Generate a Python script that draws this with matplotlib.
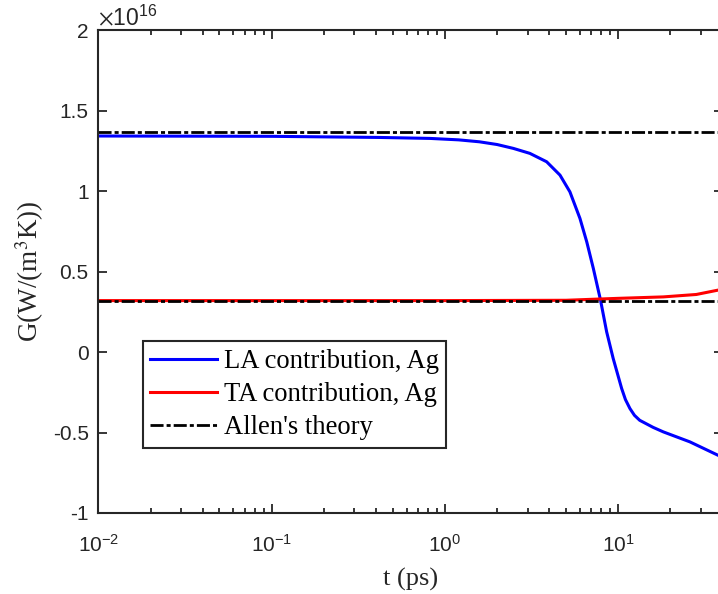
import matplotlib
matplotlib.use("Agg")
import matplotlib.pyplot as plt
from matplotlib.ticker import LogLocator, FixedLocator, NullFormatter

# values are in units of 1e16 W/(m^3 K)
t_la = [0.01, 0.1, 0.42, 0.82, 1.2, 1.58, 2.0, 2.48, 3.09, 3.86, 4.61, 5.26, 6.01, 6.58, 7.18,
        7.9, 8.57, 9.35, 10.46, 11.0, 11.68, 12.4, 13.3, 15.9, 18.2, 25.9, 37.6, 40.0]
g_la = [1.343, 1.341, 1.334, 1.328, 1.319, 1.307, 1.290, 1.266, 1.235, 1.183, 1.10, 0.996, 0.831,
        0.685, 0.52, 0.323, 0.126, -0.04, -0.226, -0.295, -0.351, -0.393, -0.424, -0.468, -0.496,
        -0.558, -0.641, -0.655]

t_ta = [0.01, 1.0, 5.0, 7.9, 10.0, 18.2, 28.2, 37.6, 40.0]
g_ta = [0.320, 0.320, 0.322, 0.330, 0.334, 0.343, 0.358, 0.385, 0.392]

allen_levels = [1.365, 0.32]
x_range = [0.01, 40.0]

y_ticks = [-1, -0.5, 0, 0.5, 1, 1.5, 2]
y_ticklabels = ['-1', '-0.5', '0', '0.5', '1', '1.5', '2']

SERIF = 'Liberation Serif'
SANS = 'Liberation Sans'
GRAY = '#262626'


def main():
    plt.rcParams['mathtext.fontset'] = 'stix'
    plt.rcParams['lines.scale_dashes'] = False
    plt.rcParams['axes.unicode_minus'] = False

    fig = plt.figure(figsize=(7.18, 5.94), dpi=100)
    ax = fig.add_axes([0.137, 0.1364, 0.8694, 0.8126])

    ax.plot(t_la, g_la, color='#0000ff', lw=2.2, label='LA contribution, Ag')
    ax.plot(t_ta, g_ta, color='#ff0000', lw=2.2, label='TA contribution, Ag')
    dash = (9.4, 2.2, 2.9, 2.2)
    for i, level in enumerate(allen_levels):
        ax.plot(x_range, [level, level], color='black', lw=2.0, dashes=dash,
                label="Allen's theory" if i == 0 else None)

    ax.set_xscale('log')
    ax.set_xlim(x_range)
    ax.set_ylim(-1, 2)

    ax.xaxis.set_major_locator(LogLocator(base=10, numticks=10))
    ax.xaxis.set_minor_locator(LogLocator(base=10, subs=range(2, 10), numticks=20))
    ax.xaxis.set_minor_formatter(NullFormatter())
    ax.yaxis.set_major_locator(FixedLocator(y_ticks))
    ax.set_yticklabels(y_ticklabels)

    ax.tick_params(which='both', direction='in', top=True, right=True,
                   colors=GRAY, width=1.3, labelsize=15)
    ax.tick_params(which='major', length=6.5)
    ax.tick_params(which='minor', length=3.5)
    ax.tick_params(axis='y', pad=7)
    ax.tick_params(axis='x', pad=15)
    for lab in ax.get_xticklabels() + ax.get_yticklabels():
        lab.set_fontfamily(SANS)
    for sp in ax.spines.values():
        sp.set_linewidth(1.5)
        sp.set_color(GRAY)

    ax.set_xlabel('t (ps)', fontfamily=SERIF, fontsize=19, color=GRAY, labelpad=9)
    ax.set_ylabel('G(W/(m$^{3}$K))', fontfamily=SERIF, fontsize=19.5, color=GRAY, labelpad=5)

    ax.text(0.0, 1.0, r'$\times\mathdefault{10^{16}}$', transform=ax.transAxes,
            ha='left', va='bottom', fontsize=16.5, fontfamily=SANS, color=GRAY)

    leg = ax.legend(loc='upper left', bbox_to_anchor=(0.071, 0.356),
                    prop={'family': SERIF, 'size': 19.2}, frameon=True, fancybox=False,
                    edgecolor=GRAY, framealpha=1, handlelength=2.5, handletextpad=0.25,
                    labelspacing=0.3, borderpad=0.29, borderaxespad=0)
    leg.get_frame().set_linewidth(1.5)

    fig.savefig('out.png', dpi=100)


if __name__ == "__main__":
    main()
